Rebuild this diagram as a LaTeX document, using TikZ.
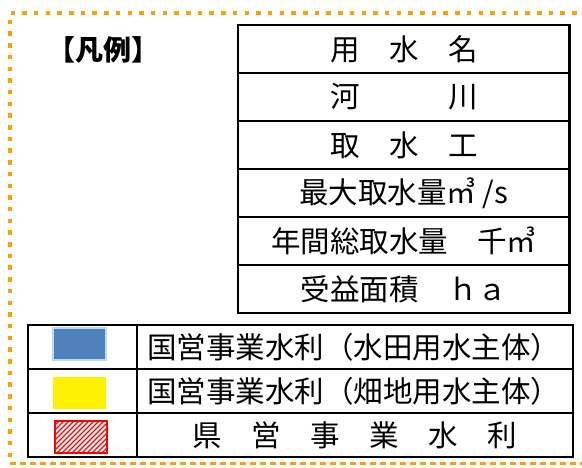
\documentclass[tikz,border=0pt]{standalone}
\usepackage{fontspec}
\setmainfont{Noto Sans CJK JP}
\definecolor{framec}{RGB}{255,160,0}
\definecolor{bluefill}{RGB}{79,129,189}
\definecolor{blueedge}{RGB}{183,221,232}
\begin{document}
\begin{tikzpicture}[x=1pt,y=-1pt,
  jp/.style={font=\fontsize{29.5}{31}\selectfont},
  topcell/.style={draw=black,line width=2.3pt,minimum height=48pt,minimum width=331.5pt,inner sep=0pt,jp},
  cellA/.style={draw=black,line width=2pt,minimum height=44pt,minimum width=109pt,inner sep=0pt},
  cellB/.style={draw=black,line width=2pt,minimum height=44pt,minimum width=436pt,inner sep=0pt,jp},
  swatch/.style={minimum width=53pt,minimum height=32pt,inner sep=0pt}]
\useasboundingbox (0,0) rectangle (582,467);
% frame
\draw[framec,line width=4pt,dash pattern=on 4.5pt off 7.2pt] (600,13) -- (10,13) -- (10,463);
\draw[framec,line width=3pt,dash pattern=on 6pt off 4pt] (10,463) -- (600,463);
% title
\node[font=\fontsize{28}{29}\selectfont\bfseries,inner sep=0pt] (title) at (104,50) {【凡例】};
% top table
\node[topcell] (r1) at (403.75,49) {用　水　名};
\node[topcell] (r2) at (403.75,97) {河　　　川};
\node[topcell] (r3) at (403.75,145) {取　水　工};
\node[topcell] (r4) at (403.75,193) {最大取水量㎥ /s};
\node[topcell] (r5) at (403.75,241) {年間総取水量　千㎥};
\node[topcell] (r6) at (403.75,289) {受益面積　ｈａ};
% bottom table
\node[cellA] (a1) at (82.5,347) {};
\node[cellA] (a2) at (82.5,391) {};
\node[cellA] (a3) at (82.5,435) {};
\node[cellB] (b1) at (355,347) {};
\node[cellB] (b2) at (355,391) {};
\node[cellB] (b3) at (355,435) {県　営　事　業　水　利};
\node[jp,anchor=west,inner sep=0pt] (t1) at (147,347) {国営事業水利（水田用水主体）};
\node[jp,anchor=west,inner sep=0pt] (t2) at (147,391) {国営事業水利（畑地用水主体）};
% swatches
\node[swatch,fill=bluefill,draw=blueedge,line width=1.5pt] (s1) at (79.5,344) {};
\node[swatch,fill=yellow] (s2) at (79.5,392.5) {};
\begin{scope}
  \clip (55,421) rectangle (107,453);
  \foreach \x in {20,25,...,110}{
    \draw[red,line width=1.4pt] (\x,455) -- (\x+36,419);
  }
\end{scope}
\node[swatch,minimum width=52pt,draw=red,line width=1.5pt] (s3) at (81,437) {};
\end{tikzpicture}
\end{document}
